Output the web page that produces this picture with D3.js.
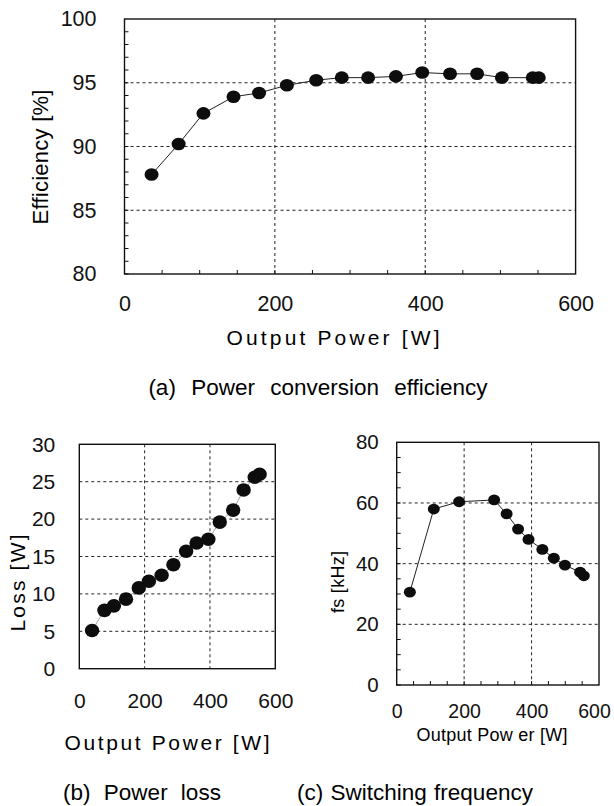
<!DOCTYPE html>
<html>
<head>
<meta charset="utf-8">
<script src="https://cdn.jsdelivr.net/npm/d3@7"></script>
<style>
    body { margin: 0; background: #fff; }
    svg { display: block; font-family: "Liberation Sans", Arial, sans-serif; }
    .grid line { stroke: #222; stroke-width: 1; stroke-dasharray: 3,3; }
    .frame { fill: none; stroke: #111; stroke-width: 1.4; }
    .minor line { stroke: #111; stroke-width: 1; }
    .tick text { fill: #111; }
</style>
</head>
<body>
<div id="chart"></div>
<script>
'use strict';

// x values shared by all three panels
const powerTicks = [0, 200, 400, 600];

// (a) efficiency
const effPower = [36, 72, 105, 145, 179, 216, 255, 289, 324, 361, 396, 433, 469, 502, 543, 551];
const effValues = [87.8, 90.2, 92.6, 93.9, 94.2, 94.8, 95.2, 95.4, 95.4, 95.5, 95.8, 95.7, 95.7, 95.4, 95.4, 95.4];
const effTicks = [80, 85, 90, 95, 100];

// (b) loss
const lossPower = [39, 77, 106, 143, 182, 213, 252, 288, 327, 359, 395, 430, 471, 503, 537, 552];
const lossValues = [5.1, 7.8, 8.4, 9.3, 10.8, 11.7, 12.5, 13.9, 15.7, 16.8, 17.3, 19.6, 21.2, 23.9, 25.6, 26.0];
const lossTicks = [0, 5, 10, 15, 20, 25, 30];

// (c) switching frequency
const fsPower = [39, 110, 185, 289, 326, 360, 391, 432, 466, 499, 544, 555];
const fsValues = [30.6, 58.0, 60.4, 61.0, 56.4, 51.4, 48.0, 44.7, 41.8, 39.5, 37.2, 36.0];
const fsTicks = [0, 20, 40, 60, 80];

const svg = d3.select("#chart").append("svg")
    .attr("width", 614)
    .attr("height", 806);

function drawPanel(p) {
    const g = svg.append("g");
    const x = d3.scaleLinear().domain([0, 600]).range([p.left, p.right]);
    const y = d3.scaleLinear().domain(d3.extent(p.yTicks)).range([p.bottom, p.top]);

    // dashed grid, inner lines only
    const grid = g.append("g").attr("class", "grid");
    grid.selectAll(".h")
        .data(p.yTicks.slice(1, -1))
        .enter().append("line")
        .attr("x1", p.left).attr("x2", p.right)
        .attr("y1", d => y(d)).attr("y2", d => y(d));
    grid.selectAll(".v")
        .data(powerTicks.slice(1, -1))
        .enter().append("line")
        .attr("y1", p.top).attr("y2", p.bottom)
        .attr("x1", d => x(d)).attr("x2", d => x(d));

    // small inward ticks
    if (p.minorY) {
        const minor = g.append("g").attr("class", "minor");
        minor.selectAll(".my")
            .data(d3.range(y.domain()[0], y.domain()[1], p.minorY))
            .enter().append("line")
            .attr("x1", p.left).attr("x2", p.left + 4)
            .attr("y1", d => y(d)).attr("y2", d => y(d));
        minor.selectAll(".mx")
            .data(d3.range(50, 600, 50))
            .enter().append("line")
            .attr("y1", p.bottom).attr("y2", p.bottom - 4)
            .attr("x1", d => x(d)).attr("x2", d => x(d));
    }

    g.append("rect")
        .attr("class", "frame")
        .attr("x", p.left).attr("y", p.top)
        .attr("width", p.right - p.left)
        .attr("height", p.bottom - p.top);

    // tick labels
    g.append("g")
        .attr("transform", "translate(0," + p.bottom + ")")
        .call(d3.axisBottom(x).tickValues(powerTicks).tickSize(0).tickPadding(p.xPad))
        .call(a => a.select(".domain").remove())
        .selectAll("text")
        .style("font-size", p.xFont + "px")
        // last label sits at the page edge on the right panel
        .attr("dx", (d, i) => (i === powerTicks.length - 1 ? -(p.lastDx || 0) : 0));
    g.append("g")
        .attr("transform", "translate(" + p.left + ",0)")
        .call(d3.axisLeft(y).tickValues(p.yTicks).tickSize(0).tickPadding(p.yPad))
        .call(a => a.select(".domain").remove())
        .selectAll("text").style("font-size", p.yFont + "px");

    // series
    const pts = p.xs.map((d, i) => ({ w: d, v: p.ys[i] }));
    const line = d3.line().x(d => x(d.w)).y(d => y(d.v));
    g.append("path")
        .attr("d", line(pts))
        .attr("fill", "none")
        .attr("stroke", p.lineColor)
        .attr("stroke-width", p.lineWidth);
    g.selectAll(".dot")
        .data(pts)
        .enter().append("ellipse")
        .attr("cx", d => x(d.w))
        .attr("cy", d => y(d.v))
        .attr("rx", p.rx)
        .attr("ry", p.ry)
        .attr("fill", "#0d0d0d");

    // titles
    g.append("text")
        .attr("x", p.xTitle[0]).attr("y", p.xTitle[1])
        .attr("text-anchor", "middle")
        .attr("textLength", p.xTitle[3])
        .attr("lengthAdjust", "spacing")
        .style("font-size", p.xTitle[2] + "px")
        .text(p.xLabel);
    g.append("text")
        .attr("transform", "translate(" + p.yTitle[0] + "," + p.yTitle[1] + ") rotate(-90)")
        .attr("text-anchor", "middle")
        .attr("dominant-baseline", "central")
        .attr("textLength", p.yTitle[3])
        .attr("lengthAdjust", "spacing")
        .style("font-size", p.yTitle[2] + "px")
        .text(p.yLabel);
    g.append("text")
        .attr("x", p.caption[0]).attr("y", p.caption[1])
        .attr("text-anchor", "middle")
        .style("font-size", p.caption[2] + "px")
        .style("word-spacing", p.caption[3] + "px")
        .text(p.captionText);
}

drawPanel({
    left: 124.5, right: 575.6, top: 19, bottom: 274,
    xs: effPower, ys: effValues, yTicks: effTicks, minorY: 1,
    xPad: 21.5, xFont: 21.5, yPad: 28, yFont: 21.5,
    lineColor: "#222", lineWidth: 1, rx: 7, ry: 6.3,
    xLabel: "Output Power [W]", xTitle: [333, 345, 21, 213],
    yLabel: "Efficiency [%]", yTitle: [40, 157, 22, 135],
    captionText: "(a) Power conversion efficiency", caption: [318, 395, 22.5, 9]
});

drawPanel({
    left: 79.3, right: 275.3, top: 444.3, bottom: 668.7,
    xs: lossPower, ys: lossValues, yTicks: lossTicks, minorY: 0,
    xPad: 24, xFont: 21, yPad: 24, yFont: 21,
    lineColor: "#888", lineWidth: 0.8, rx: 7.2, ry: 6.8,
    xLabel: "Output Power [W]", xTitle: [167, 750, 21, 205],
    yLabel: "Loss [W]", yTitle: [17, 583, 21, 97],
    captionText: "(b) Power loss", caption: [142, 800, 22.5, 7]
});

drawPanel({
    left: 396.7, right: 599, top: 442.3, bottom: 685,
    xs: fsPower, ys: fsValues, yTicks: fsTicks, minorY: 5,
    xPad: 19, xFont: 19.5, yPad: 18, yFont: 20.5, lastDx: 5,
    lineColor: "#222", lineWidth: 1, rx: 6, ry: 5.4,
    xLabel: "Output Pow er [W]", xTitle: [492, 741, 18, 151],
    yLabel: "fs [kHz]", yTitle: [338, 582, 18, 62],
    captionText: "(c) Switching frequency", caption: [415, 800, 22.5, 1]
});
</script>
</body>
</html>
